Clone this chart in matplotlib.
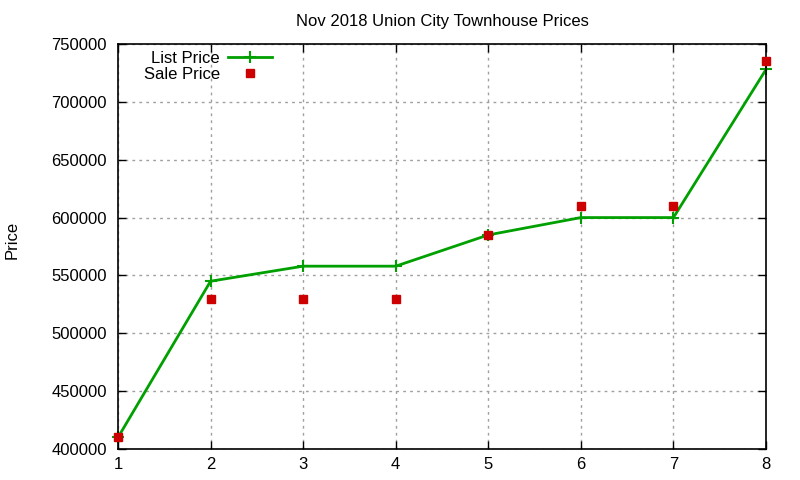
import matplotlib
matplotlib.use("Agg")
import matplotlib.pyplot as plt

plt.rcParams['font.family'] = ['Liberation Sans', 'DejaVu Sans']

# townhouse index, list and sale prices
house = [1, 2, 3, 4, 5, 6, 7, 8]
list_price = [410000, 545000, 558000, 558000, 585000, 600000, 600000, 728000]
sale_price = [410000, 530000, 530000, 530000, 585000, 610000, 610000, 735000]
y_ticks = [400000, 450000, 500000, 550000, 600000, 650000, 700000, 750000]

fig = plt.figure(figsize=(8, 4.8), dpi=100)
ax = fig.add_axes([0.1475, 0.0646, 0.81, 0.8437])

ax.plot(house, list_price, color='#00a000', lw=2, marker='+', ms=9, mew=1.5,
        label='List Price', clip_on=False)
ax.plot(house, sale_price, ls='none', color='#cc0000', marker='s', ms=6,
        label='Sale Price', clip_on=False, zorder=3)

ax.set_xlim(1, 8)
ax.set_ylim(400000, 750000)
ax.set_xticks(house)
ax.set_yticks(y_ticks)
ax.tick_params(direction='in', length=6, top=True, right=True, labelsize=12,
               width=1)
ax.tick_params(axis='y', pad=8)
ax.tick_params(axis='x', pad=6)
ax.grid(True, color='#a0a0a0', ls=(0, (2, 3)), lw=1)
for s in ax.spines.values():
    s.set_linewidth(1.2)

ax.set_title('Nov 2018 Union City Townhouse Prices', fontsize=12, pad=13)
fig.text(0.006, 0.5, 'Price', rotation=90, va='center', ha='left', fontsize=12)

ax.legend(loc='upper left', bbox_to_anchor=(0.022, 1.012), frameon=False,
          markerfirst=False, fontsize=12, handlelength=2.6, borderaxespad=0.3,
          labelspacing=0.05, handletextpad=0.5)

fig.savefig('out.png', dpi=100)
